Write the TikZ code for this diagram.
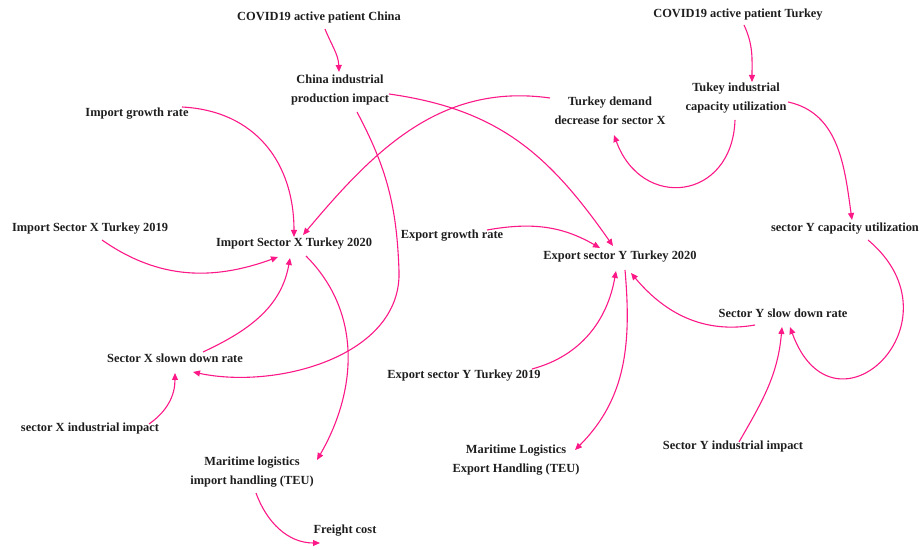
\documentclass[tikz,border=0pt]{standalone}
\usepackage{fontspec}
\setmainfont{Liberation Serif}
\usetikzlibrary{arrows.meta}
\definecolor{linkpink}{RGB}{252,25,135}
\definecolor{varink}{RGB}{30,30,30}

\begin{document}
\begin{tikzpicture}[x=1pt,y=1pt]

    % Styles
    \tikzstyle{var}=[font=\bfseries\fontsize{12.4}{18.5}\selectfont, text=varink, align=center, inner sep=1pt]
    \tikzstyle{link}=[draw=linkpink, line width=1.1pt, -{Triangle[length=7pt,width=6pt]}]

    \useasboundingbox (0,0) rectangle (921,549);

    % China side
    \node[var] (cc) at (319,531) {COVID19 active patient China};
    \node[var] (cip) at (340,459) {China industrial\\production impact};

    % import of sector X
    \node[var] (igr) at (137,435) {Import growth rate};
    \node[var] (ix19) at (90,320) {Import Sector X Turkey 2019};
    \node[var] (ix20) at (294,305) {Import Sector X Turkey 2020};
    \node[var] (xsd) at (175,191) {Sector X slown down rate};
    \node[var] (xii) at (90,120) {sector X industrial impact};
    \node[var] (mli) at (252,77) {Maritime logistics\\import handling (TEU)};
    \node[var] (fc) at (345,18) {Freight cost};

    % Turkey side
    \node[var] (ct) at (738,534) {COVID19 active patient Turkey};
    \node[var] (tic) at (736,451) {Tukey industrial\\capacity utilization};
    \node[var] (tdd) at (610,438) {Turkey demand\\decrease for sector X};
    \node[var] (ycu) at (845,320) {sector Y capacity utilization};

    % export of sector Y
    \node[var] (egr) at (452,313) {Export growth rate};
    \node[var] (ey20) at (620,292) {Export sector Y Turkey 2020};
    \node[var] (ey19) at (464,173) {Export sector Y Turkey 2019};
    \node[var] (ysd) at (783,236) {Sector Y slow down rate};
    \node[var] (yii) at (733,102) {Sector Y industrial impact};
    \node[var] (mle) at (516,89) {Maritime Logistics\\Export Handling (TEU)};

    % China links
    \draw[link] ([shift={(6,-11)}]cc.center) to[out=-68,in=92] ([shift={(-1,18)}]cip.center);
    \draw[link] ([shift={(49,-4)}]cip.center) to[out=-8,in=125,looseness=1.05] ([shift={(-7,11)}]ey20.center);
    \draw[link] ([shift={(17,-22)}]cip.center) to[out=-62,in=92] (399,278)
        to[out=-88,in=-12,looseness=0.95] ([shift={(18,-14)}]xsd.center);

    % import links
    \draw[link] ([shift={(-60,13)}]tdd.center) to[out=172,in=50] ([shift={(9,9)}]ix20.center);
    \draw[link] ([shift={(45,7)}]igr.center) to[out=-3,in=90,looseness=1.1] ([shift={(0,7)}]ix20.center);
    \draw[link] ([shift={(12,-11)}]ix19.center) to[out=-35,in=-160] ([shift={(-16,-13)}]ix20.center);
    \draw[link] ([shift={(28,6)}]xsd.center) to[out=25,in=-100] ([shift={(-4,-14)}]ix20.center);
    \draw[link] ([shift={(12,-12)}]ix20.center) to[out=-45,in=60] ([shift={(65,12)}]mli.center);
    \draw[link] ([shift={(59,5)}]xii.center) to[out=35,in=-90] ([shift={(0,-15)}]xsd.center);
    \draw[link] ([shift={(4,-21)}]mli.center) to[out=-70,in=180] ([shift={(-25,-12)}]fc.center);

    % Turkey links
    \draw[link] ([shift={(6,-10)}]ct.center) to[out=-65,in=90] ([shift={(16,16)}]tic.center);
    \draw[link] ([shift={(-1,-22)}]tic.center) to[out=-92,in=-70,looseness=1.7] ([shift={(4,-24)}]tdd.center);
    \draw[link] ([shift={(52,-4)}]tic.center) to[out=-12,in=98] ([shift={(7,9)}]ycu.center);
    \draw[link] ([shift={(23,-11)}]ycu.center) to[out=-40,in=-70,looseness=2.8] ([shift={(7,-14)}]ysd.center);

    % export links
    \draw[link] ([shift={(35,6)}]egr.center) to[out=10,in=150] ([shift={(-20,9)}]ey20.center);
    \draw[link] ([shift={(-28,-12)}]ysd.center) to[out=-170,in=-50] ([shift={(11,-16)}]ey20.center);
    \draw[link] ([shift={(6,5)}]yii.center) to[out=60,in=-95] ([shift={(-1,-14)}]ysd.center);
    \draw[link] ([shift={(68,7)}]ey19.center) to[out=15,in=-100] ([shift={(-4,-14)}]ey20.center);
    \draw[link] ([shift={(5,-13)}]ey20.center) to[out=-85,in=45] ([shift={(59,10)}]mle.center);

\end{tikzpicture}
\end{document}
